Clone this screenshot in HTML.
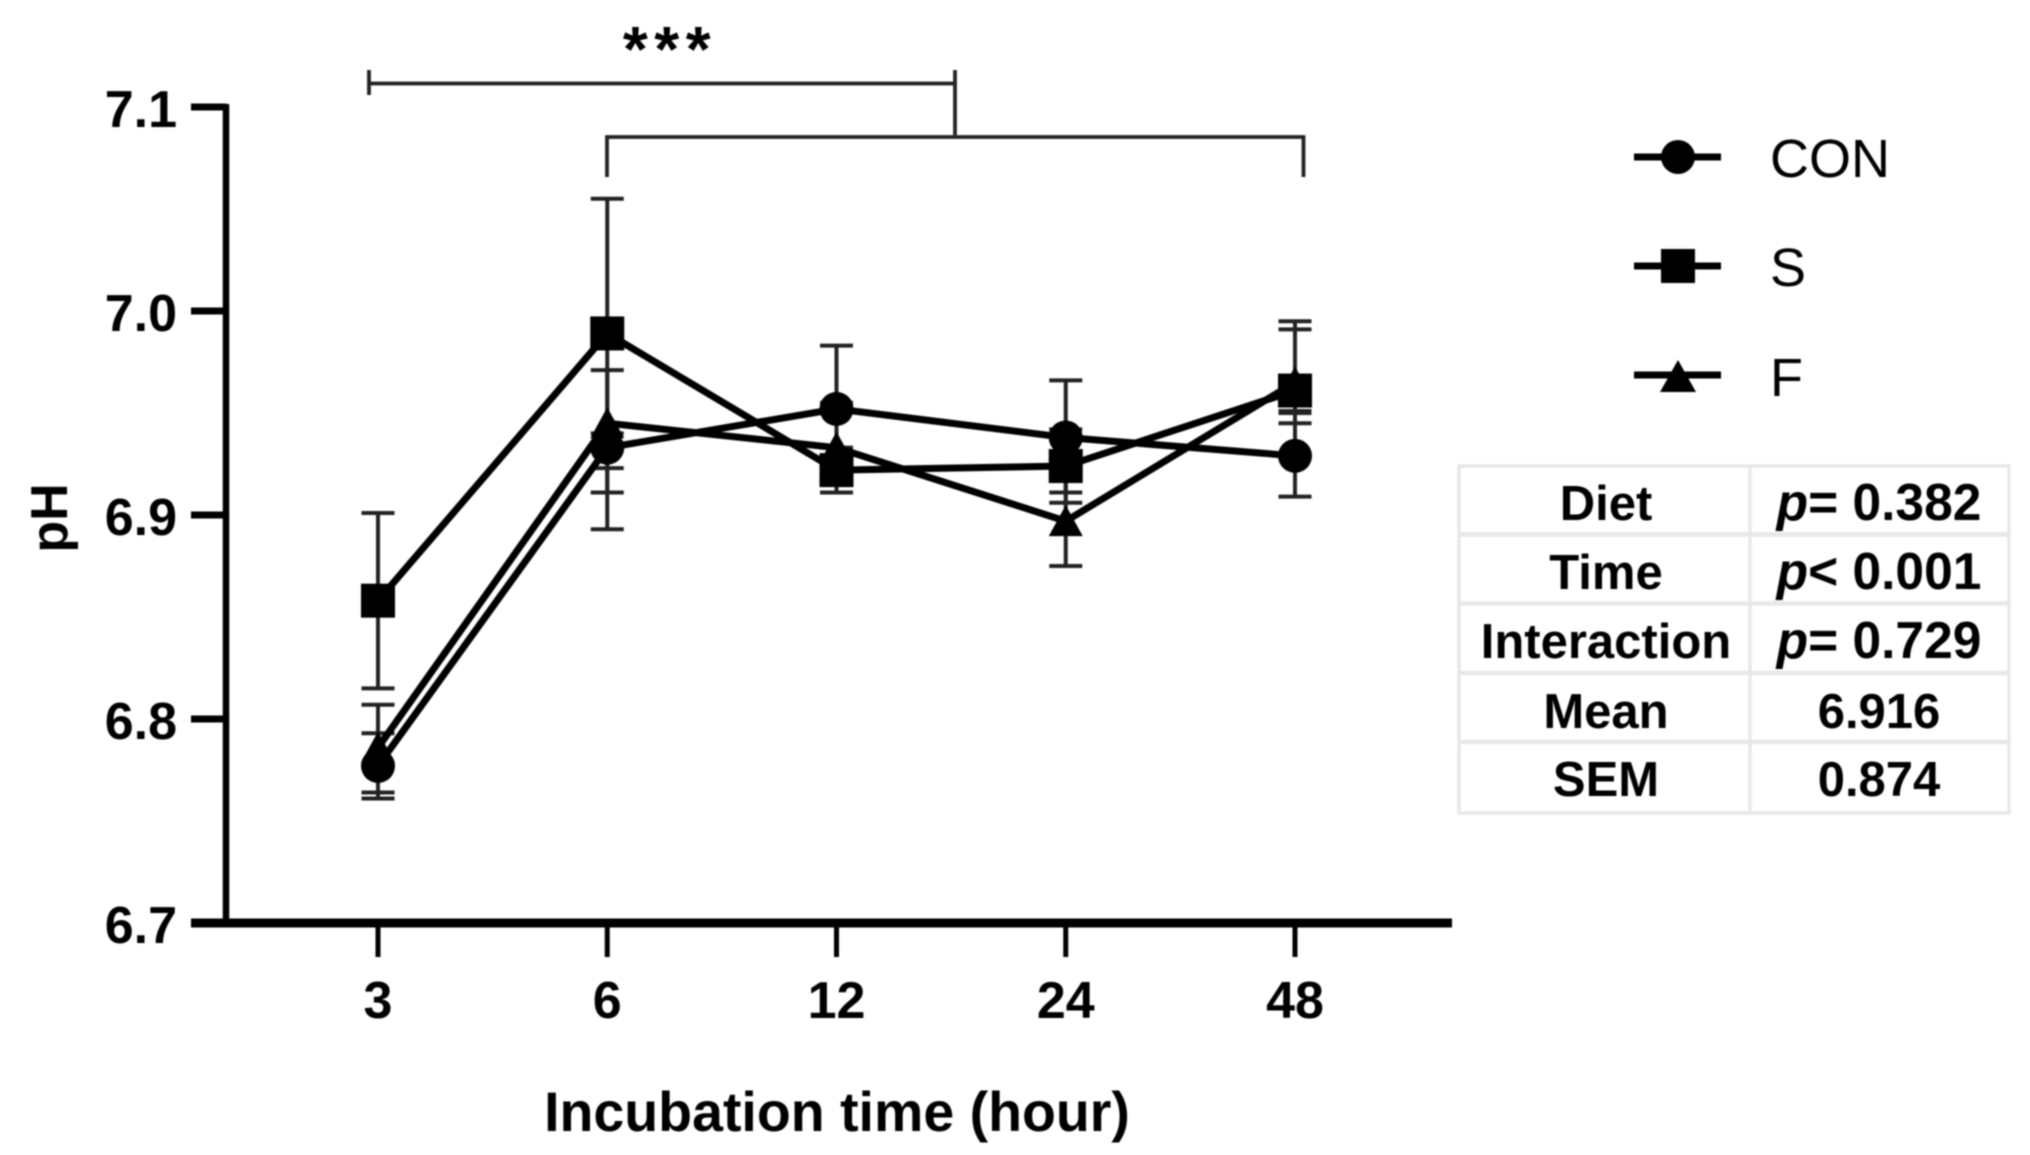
<!DOCTYPE html>
<html>
<head>
<meta charset="utf-8">
<title>pH over incubation time</title>
<style>
html,body{margin:0;padding:0;background:#fff;}
svg{display:block;filter:blur(0.9px);}
text{font-family:"Liberation Sans",Arial,sans-serif;fill:#000;}
.b{font-weight:bold;}
</style>
</head>
<body>
<svg id="chart" xmlns="http://www.w3.org/2000/svg" width="2030" height="1155" viewBox="0 0 2030 1155">
  <rect width="2030" height="1155" fill="#fff"/>

  <g id="brackets" fill="none" stroke="#222" stroke-width="3.8">
    <path d="M369 70V95M369 83.5H955M955 70V135"/>
    <path d="M607 177V137H1303.5V177"/>
  </g>
  <text class="b" x="670" y="71" font-size="64" letter-spacing="6.5" text-anchor="middle">***</text>

  <g id="axes"></g>
  <g id="series"></g>

  <text class="b" x="837" y="1131" font-size="55.5" text-anchor="middle">Incubation time (hour)</text>
  <text class="b" transform="translate(67 518) rotate(-90)" font-size="52" text-anchor="middle">pH</text>

  <g id="legend">
    <g>
      <line x1="1634" x2="1721" y1="157" y2="157" stroke="#000" stroke-width="7"/>
      <circle cx="1678" cy="157" r="17" fill="#000"/>
      <text x="1770" y="177" font-size="54">CON</text>
    </g>
    <g>
      <line x1="1634" x2="1721" y1="266" y2="266" stroke="#000" stroke-width="7"/>
      <rect x="1661" y="249" width="34" height="34" fill="#000"/>
      <text x="1770" y="286" font-size="54">S</text>
    </g>
    <g>
      <line x1="1634" x2="1721" y1="375" y2="375" stroke="#000" stroke-width="7"/>
      <polygon points="1678,360 1696,392 1660,392" fill="#000"/>
      <text x="1770" y="396" font-size="54">F</text>
    </g>
  </g>

  <g id="stats-table">
    <g fill="none" stroke="#e8e8e8">
      <rect x="1459" y="466" width="550" height="347" stroke-width="3.5"/>
      <line x1="1750" x2="1750" y1="466" y2="813" stroke-width="3.5"/>
      <line x1="1459" x2="2009" y1="534.5" y2="534.5" stroke-width="4.5"/>
      <line x1="1459" x2="2009" y1="603.5" y2="603.5" stroke-width="4.5"/>
      <line x1="1459" x2="2009" y1="673" y2="673" stroke-width="4.5"/>
      <line x1="1459" x2="2009" y1="742" y2="742" stroke-width="4.5"/>
    </g>
    <g class="b" font-size="49" text-anchor="middle" font-weight="bold">
      <text x="1606" y="520">Diet</text>
      <text x="1606" y="589">Time</text>
      <text x="1606" y="658">Interaction</text>
      <text x="1606" y="728">Mean</text>
      <text x="1606" y="796">SEM</text>
      <text x="1879" y="520" font-size="51.5"><tspan font-style="italic">p</tspan>= 0.382</text>
      <text x="1879" y="589" font-size="51.5"><tspan font-style="italic">p</tspan>&lt; 0.001</text>
      <text x="1879" y="658" font-size="51.5"><tspan font-style="italic">p</tspan>= 0.729</text>
      <text x="1879" y="728">6.916</text>
      <text x="1879" y="796">0.874</text>
    </g>
  </g>
</svg>

<script>
// Chart data
const categories = ['3', '6', '12', '24', '48'];
const yTickValues = [6.7, 6.8, 6.9, 7.0, 7.1];

const conMeans = [6.777, 6.933, 6.952, 6.938, 6.929];
const conUpper = [6.793, 6.940, 6.983, 6.966, 6.950];
const conLower = [6.761, 6.911, 6.921, 6.911, 6.909];

const sMeans = [6.858, 6.989, 6.922, 6.924, 6.961];
const sUpper = [6.901, 7.055, 6.933, 6.942, 6.991];
const sLower = [6.815, 6.923, 6.911, 6.906, 6.945];

const fMeans = [6.786, 6.945, 6.933, 6.897, 6.965];
const fUpper = [6.807, 6.971, 6.955, 6.924, 6.995];
const fLower = [6.764, 6.893, 6.915, 6.875, 6.951];

const NS = 'http://www.w3.org/2000/svg';
function yScale(v) { return 923 - (v - 6.7) * 2040; }
function xScale(i) { return 378 + i * 229.25; }

function make(tag, attrs, parent) {
  const el = document.createElementNS(NS, tag);
  for (const k in attrs) el.setAttribute(k, attrs[k]);
  parent.appendChild(el);
  return el;
}

// Axes
const axes = document.getElementById('axes');
const yAxisLine = make('line', {x1: 226, x2: 226, y1: yScale(7.1) - 3, y2: yScale(6.7), stroke: '#000', 'stroke-width': 6.5}, axes);


const xAxisLine = make('line', {x1: 191, x2: 1452, y1: yScale(6.7), y2: yScale(6.7), stroke: '#000', 'stroke-width': 9}, axes);



yTickValues.forEach(function (v) {
  const tick = make('line', {x1: 191, x2: 226, y1: yScale(v), y2: yScale(v), stroke: '#000', 'stroke-width': 7}, axes);
  
  
  const label = make('text', {x: 177, y: yScale(v) + 20, 'font-size': 52, 'font-weight': 'bold', 'text-anchor': 'end'}, axes);
  
  
  label.textContent = v.toFixed(1);
});

categories.forEach(function (c, i) {
  const tick = make('line', {x1: xScale(i), x2: xScale(i), y1: yScale(6.7), y2: 957, stroke: '#000', 'stroke-width': 5}, axes);
  
  
  const label = make('text', {x: xScale(i), y: 1018, 'font-size': 52, 'font-weight': 'bold', 'text-anchor': 'middle'}, axes);
  
  
  label.textContent = c;
});

// Series
const seriesLayer = document.getElementById('series');

function drawErrors(key, upper, lower) {
  upper.forEach(function (u, i) {
    const x = xScale(i);
    const yU = yScale(u);
    const yL = yScale(lower[i]);
    const path = make('path', {
      d: 'M' + x + ' ' + yU + 'V' + yL +
         'M' + (x - 16.5) + ' ' + yU + 'H' + (x + 16.5) +
         'M' + (x - 16.5) + ' ' + yL + 'H' + (x + 16.5),
      fill: 'none', stroke: '#222', 'stroke-width': 4
    }, seriesLayer);
    
    
  });
}

function drawLine(key, means) {
  const pts = means.map(function (m, i) { return xScale(i) + ',' + yScale(m); }).join(' ');
  const line = make('polyline', {points: pts, fill: 'none', stroke: '#000', 'stroke-width': 7, 'stroke-linejoin': 'round'}, seriesLayer);
  
  
}

function drawMarkers(key, means) {
  means.forEach(function (m, i) {
    const x = xScale(i);
    const y = yScale(m);
    let mark;
    if (key === 'con') {
      mark = make('circle', {cx: x, cy: y, r: 17}, seriesLayer);
    } else if (key === 's') {
      mark = make('rect', {x: x - 17, y: y - 17, width: 34, height: 34}, seriesLayer);
    } else {
      mark = make('polygon', {points: x + ',' + (y - 16) + ' ' + (x + 17) + ',' + (y + 15) + ' ' + (x - 17) + ',' + (y + 15)}, seriesLayer);
    }
    mark.setAttribute('fill', '#000');
    
    
  });
}

drawErrors('con', conUpper, conLower);
drawErrors('s', sUpper, sLower);
drawErrors('f', fUpper, fLower);
drawLine('con', conMeans);
drawLine('s', sMeans);
drawLine('f', fMeans);
drawMarkers('con', conMeans);
drawMarkers('s', sMeans);
drawMarkers('f', fMeans);
</script>
</body>
</html>
